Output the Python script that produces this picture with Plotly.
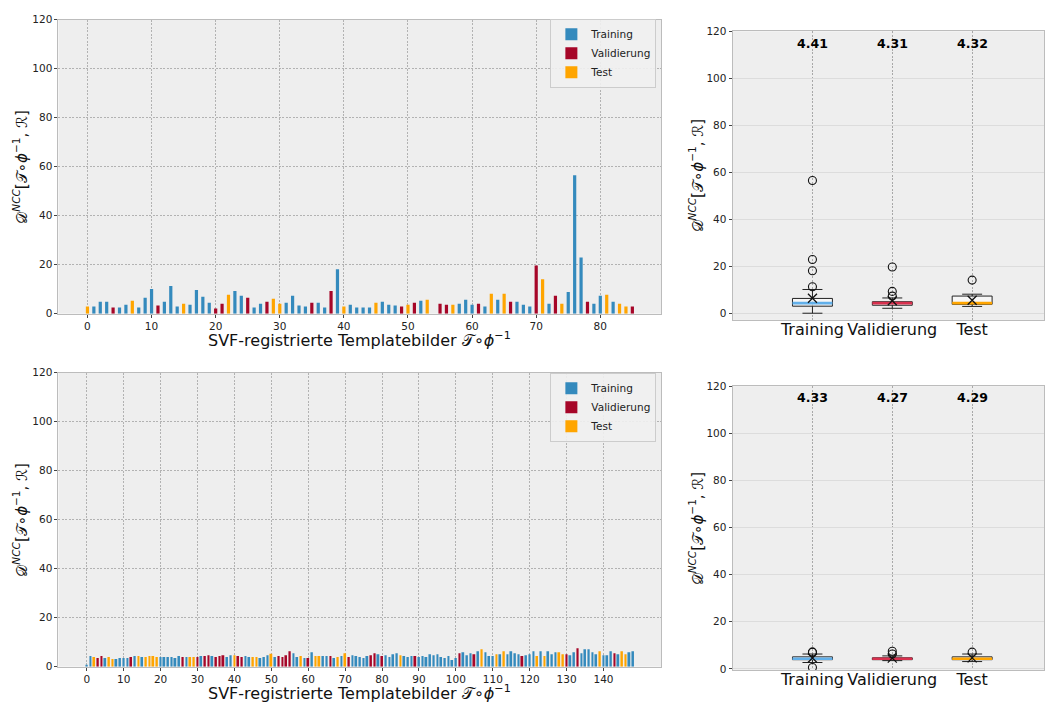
import numpy as np
import plotly.graph_objects as go

# ---------------------------------------------------------------- data
split_names = ["Training", "Validierung", "Test"]
split_colors = {"Training": "#348ABD", "Validierung": "#A60628", "Test": "#FFA500"}
median_colors = {"Training": "#62B0EA", "Validierung": "#D8304E", "Test": "#FFA500"}

# upper row: 86 registered template images
top_values = [
    2.9, 2.9, 4.9, 4.9, 2.5, 2.5, 3.7, 5.3, 2.5, 6.5,
    10.1, 3.3, 4.9, 11.3, 2.9, 4.1, 3.7, 9.7, 6.9, 4.5,
    2.1, 4.1, 7.7, 9.3, 7.3, 6.5, 2.5, 4.1, 4.9, 6.1,
    4.1, 4.5, 7.3, 3.3, 2.9, 4.5, 4.5, 2.5, 9.3, 18.1,
    2.9, 3.7, 2.5, 2.5, 2.5, 4.5, 4.9, 3.7, 3.3, 2.9,
    3.7, 4.5, 5.3, 5.7, 0.0, 4.1, 3.7, 3.7, 4.1, 5.7,
    3.7, 4.1, 2.9, 8.1, 5.7, 8.1, 4.9, 4.9, 3.7, 2.9,
    19.7, 14.1, 4.1, 7.3, 4.1, 8.9, 56.5, 22.9, 4.9, 4.1,
    7.3, 7.7, 4.9, 4.1, 2.9, 2.9,
]
# T = Training, V = Validierung, E = Test
top_splits = (
    "ETTTVTTETT" "TVTTTETTTT" "VVETTVTTVE" "ETTTTVTTVT"
    "ETTTTETTTV" "EVTETVVETT" "TVTETEVTTT" "VETVETTTVT" "TETEEV"
)

# lower row: 149 registered template images
bottom_values = [
    0.6, 4.3, 3.9, 3.5, 4.3, 3.5, 3.9, 3.1, 3.1, 3.5,
    3.5, 3.5, 3.9, 4.3, 4.3, 3.9, 3.9, 4.3, 4.3, 3.9,
    3.9, 3.9, 3.9, 3.9, 3.5, 4.3, 3.9, 3.9, 3.9, 3.9,
    3.9, 4.3, 4.3, 4.7, 4.3, 3.9, 4.3, 4.7, 3.9, 4.7,
    4.7, 4.3, 3.9, 4.3, 3.9, 3.9, 3.9, 3.5, 3.9, 4.7,
    5.3, 3.9, 4.3, 3.9, 4.7, 6.3, 5.5, 3.9, 4.3, 3.5,
    3.5, 5.9, 4.3, 4.3, 4.3, 4.3, 4.3, 3.5, 3.9, 4.3,
    5.5, 3.9, 4.7, 4.3, 3.9, 3.5, 4.3, 4.7, 5.5, 5.1,
    4.3, 4.7, 3.9, 5.1, 5.5, 4.7, 4.3, 3.9, 4.3, 4.3,
    3.9, 4.3, 3.9, 5.1, 4.7, 5.1, 3.9, 3.5, 4.3, 2.7,
    3.5, 5.5, 5.9, 4.7, 5.5, 5.1, 6.3, 7.1, 5.9, 4.3,
    4.3, 5.1, 5.1, 6.3, 5.1, 6.3, 5.5, 5.1, 4.3, 4.7,
    5.1, 6.3, 4.3, 6.3, 4.3, 6.3, 5.1, 5.9, 5.9, 5.1,
    5.1, 4.7, 5.9, 7.5, 5.5, 7.1, 7.1, 5.9, 5.1, 6.3,
    4.7, 4.7, 6.3, 5.5, 5.1, 6.3, 5.1, 5.9, 6.3,
]
bottom_splits = (
    "TTEVVTEETT" "TTVTETEEEE" "TTTTTTVTEE" "VTVVTVVVTT"
    "EVVTTEETTT" "ETVVVVTTET" "VTEETTVTET" "EVTTTTTVVT"
    "VTTTTETTTV" "TTTTTTTTTT" "TVTTTVTETT" "TETETTTTVT"
    "TTETETTTEE" "VTTVTTTTTE" "TTTVTEETT"
)

top_medians = ["4.41", "4.31", "4.32"]
bottom_medians = ["4.33", "4.27", "4.29"]

code_to_split = {"T": "Training", "V": "Validierung", "E": "Test"}

# ---------------------------------------------------------------- styling
FONT = "DejaVu Sans"
BG = "#eeeeee"
SPINE = "#bcbcbc"
GRID = "#b2b2b2"
DOTS = "2px,1.5px"
W, H = 1045, 710

fig = go.Figure()


def add_bars(values, splits, xa, ya, legend):
    idx = np.arange(len(values))
    vals = np.asarray(values, dtype=float)
    codes = np.array([code_to_split[c] for c in splits])
    for name in split_names:
        m = codes == name
        fig.add_trace(go.Bar(
            x=idx[m], y=vals[m], width=0.5, name=name,
            marker=dict(color=split_colors[name], line=dict(width=0)),
            xaxis=xa, yaxis=ya, legend=legend, showlegend=True,
        ))


def add_boxes(values, splits, xa, ya, labels):
    vals = np.asarray(values, dtype=float)
    codes = np.array([code_to_split[c] for c in splits])
    for pos, name in enumerate(split_names, start=1):
        v = vals[codes == name]
        q1, med, q3 = np.percentile(v, [25, 50, 75])
        iqr = q3 - q1
        lo_lim, hi_lim = q1 - 1.5 * iqr, q3 + 1.5 * iqr
        lower = v[v >= lo_lim].min()
        upper = v[v <= hi_lim].max()
        fliers = v[(v < lo_lim) | (v > hi_lim)]
        fig.add_trace(go.Box(
            x=[pos], q1=[q1], median=[med], q3=[q3],
            lowerfence=[lower], upperfence=[upper],
            width=0.5, whiskerwidth=0.5,
            fillcolor="rgba(255,255,255,0.55)",
            line=dict(color="#222222", width=1),
            xaxis=xa, yaxis=ya, showlegend=False, hoverinfo="skip",
        ))
        # coloured median bar
        fig.add_trace(go.Scatter(
            x=[pos - 0.25, pos + 0.25], y=[med, med], mode="lines",
            line=dict(color=median_colors[name], width=2.6),
            xaxis=xa, yaxis=ya, showlegend=False, hoverinfo="skip",
        ))
        # outliers
        fig.add_trace(go.Scatter(
            x=np.full(len(fliers), pos), y=fliers, mode="markers",
            marker=dict(symbol="circle-open", size=8, color="#111111",
                        line=dict(width=1.1)),
            xaxis=xa, yaxis=ya, showlegend=False, hoverinfo="skip",
        ))
        # mean
        fig.add_trace(go.Scatter(
            x=[pos], y=[v.mean()], mode="markers",
            marker=dict(symbol="x-thin-open", size=9, color="#111111",
                        line=dict(width=1.3, color="#111111")),
            xaxis=xa, yaxis=ya, showlegend=False, hoverinfo="skip",
        ))
        fig.add_annotation(
            x=pos, y=115, xref=xa, yref=ya, text=f"<b>{labels[pos - 1]}</b>",
            showarrow=False, font=dict(family=FONT, size=12.5, color="#000"),
        )


add_bars(top_values, top_splits, "x", "y", "legend")
add_boxes(top_values, top_splits, "x2", "y2", top_medians)
add_bars(bottom_values, bottom_splits, "x3", "y3", "legend2")
add_boxes(bottom_values, bottom_splits, "x4", "y4", bottom_medians)


def px_x(p):
    return p / W


def px_y(p):
    return 1 - p / H


tick_font = dict(family=FONT, size=10.5, color="#222")
common = dict(showline=True, linecolor=SPINE, linewidth=1, mirror=True,
              zeroline=False, tickfont=tick_font, ticks="outside",
              ticklen=3, tickcolor="#444", tickwidth=0.8)

bar_grid = dict(showgrid=True, gridcolor=GRID, griddash=DOTS, gridwidth=0.8)
box_xaxis = dict(common)
box_xaxis.update(tickfont=dict(family=FONT, size=16, color="#111"), ticks="",
                 ticklabelstandoff=-5, showgrid=True, gridcolor="#a8a8a8",
                 griddash=DOTS, gridwidth=0.8)

n_top, n_bot = len(top_values), len(bottom_values)
pad_top = 0.05 * (n_top - 1 + 0.5)
pad_bot = 0.05 * (n_bot - 1 + 0.5)

legend_style = dict(xanchor="right", yanchor="top",
                    bgcolor="rgba(240,240,240,0.9)", bordercolor="#cccccc",
                    borderwidth=1, font=dict(family=FONT, size=10.5, color="#222"),
                    itemwidth=30, tracegroupgap=0)

fig.update_layout(
    width=W, height=H, margin=dict(l=0, r=0, t=0, b=0),
    paper_bgcolor="white", plot_bgcolor=BG,
    barmode="overlay", font=dict(family=FONT),
    xaxis=dict(domain=[px_x(58.5), px_x(662)], anchor="y",
               range=[-0.25 - pad_top, n_top - 0.75 + pad_top],
               tickvals=list(range(0, n_top, 10)), **common, **bar_grid),
    yaxis=dict(domain=[px_y(313), px_y(14)], anchor="x", range=[0, 120],
               dtick=20, **common, **bar_grid),
    xaxis3=dict(domain=[px_x(58.5), px_x(662)], anchor="y3",
                range=[-0.25 - pad_bot, n_bot - 0.75 + pad_bot],
                tickvals=list(range(0, n_bot, 10)), **common, **bar_grid),
    yaxis3=dict(domain=[px_y(672), px_y(373)], anchor="x3", range=[0, 120],
                dtick=20, **common, **bar_grid),
    xaxis2=dict(domain=[px_x(733.3), 1.0], anchor="y2", range=[0, 3.9],
                tickvals=[1, 2, 3], ticktext=split_names, **box_xaxis),
    yaxis2=dict(domain=[px_y(319.3), px_y(25.7)], anchor="x2",
                range=[-2.84, 120], dtick=20,
                showgrid=True, gridcolor="#dcdcdc", gridwidth=1, **common),
    xaxis4=dict(domain=[px_x(733.3), 1.0], anchor="y4", range=[0, 3.9],
                tickvals=[1, 2, 3], ticktext=split_names, **box_xaxis),
    yaxis4=dict(domain=[px_y(675.7), px_y(386.7)], anchor="x4",
                range=[-0.6, 120], dtick=20,
                showgrid=True, gridcolor="#dcdcdc", gridwidth=1, **common),
    legend=dict(x=px_x(657), y=px_y(13), **legend_style),
    legend2=dict(x=px_x(657), y=px_y(373), **legend_style),
)

# axis titles
ylab = "𝒟<sup><i>NCC</i></sup>[𝒯∘<i>ϕ</i><sup>−1</sup>, ℛ]"
xlab = "SVF-registrierte Templatebilder 𝒯∘<i>ϕ</i><sup>−1</sup>"
title_font = dict(family=FONT, size=15, color="#111")
for (xp, yp, ang, size, txt) in [
    (20, 163.5, -90, 15, ylab), (697, 172, -90, 15, ylab),
    (20, 522.5, -90, 15, ylab), (697, 531, -90, 15, ylab),
    (360, 339, 0, 16, xlab), (360, 698, 0, 16, xlab),
]:
    fig.add_annotation(x=px_x(xp), y=px_y(yp), xref="paper", yref="paper",
                       text=txt, textangle=ang, showarrow=False,
                       font=dict(title_font, size=size),
                       xanchor="center", yanchor="middle")

fig.write_html("out.html")
